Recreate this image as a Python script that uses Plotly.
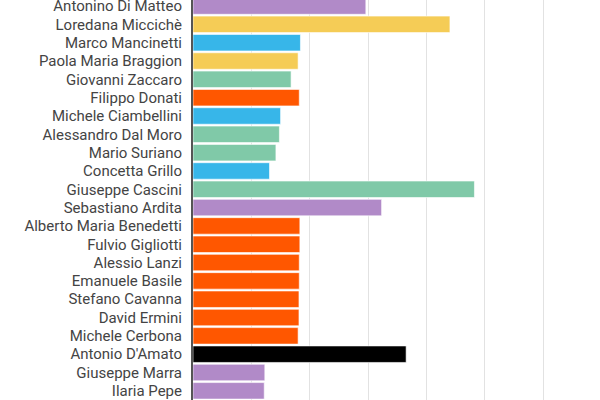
import plotly.graph_objects as go

names = [
    "Antonino Di Matteo", "Loredana Micciché".replace("é", "è"), "Marco Mancinetti",
    "Paola Maria Braggion", "Giovanni Zaccaro", "Filippo Donati",
    "Michele Ciambellini", "Alessandro Dal Moro", "Mario Suriano",
    "Concetta Grillo", "Giuseppe Cascini", "Sebastiano Ardita",
    "Alberto Maria Benedetti", "Fulvio Gigliotti", "Alessio Lanzi",
    "Emanuele Basile", "Stefano Cavanna", "David Ermini",
    "Michele Cerbona", "Antonio D'Amato", "Giuseppe Marra", "Ilaria Pepe",
]
values = [
    2.96, 4.40, 1.84, 1.80, 1.68, 1.82, 1.50, 1.48, 1.42, 1.31, 4.82,
    3.23, 1.83, 1.83, 1.82, 1.82, 1.815, 1.815, 1.80, 3.65, 1.23, 1.22,
]
groups = [
    "purple", "yellow", "blue", "yellow", "green", "orange", "blue", "green",
    "green", "blue", "green", "purple", "orange", "orange", "orange",
    "orange", "orange", "orange", "orange", "black", "purple", "purple",
]

palette = {
    "purple": "#B18AC8",
    "yellow": "#F5CC56",
    "blue": "#37B6E9",
    "green": "#80C9A8",
    "orange": "#FF5700",
    "black": "#000000",
}

fig = go.Figure(go.Bar(
    x=values,
    y=names,
    orientation="h",
    marker=dict(
        color=[palette[g] for g in groups],
        line=dict(color="rgba(255,255,255,0.6)", width=1),
    ),
    hoverinfo="x+y",
))

fig.update_layout(
    width=600,
    height=400,
    margin=dict(l=193, r=0, t=0, b=0, autoexpand=False),
    plot_bgcolor="white",
    paper_bgcolor="white",
    bargap=0.1,
    showlegend=False,
    font=dict(family="Roboto", size=15, color="#444444"),
    xaxis=dict(
        range=[0, 6.97],
        dtick=1,
        showgrid=True,
        gridcolor="#e2e2e2",
        gridwidth=1,
        zeroline=False,
        showticklabels=False,
        automargin=False,
    ),
    yaxis=dict(
        range=[21.50, -0.33],
        showgrid=False,
        showline=True,
        linecolor="#555555",
        linewidth=2,
        ticks="outside",
        ticklen=6,
        tickcolor="rgba(0,0,0,0)",
        tickfont=dict(family="Roboto", size=15, color="#444444"),
        automargin=False,
    ),
)

# page body has a default 8px margin; drop it so the chart sits at the corner
fig.write_html(
    "out.html",
    config={"displayModeBar": False},
    post_script="document.body.style.margin='0';",
)
